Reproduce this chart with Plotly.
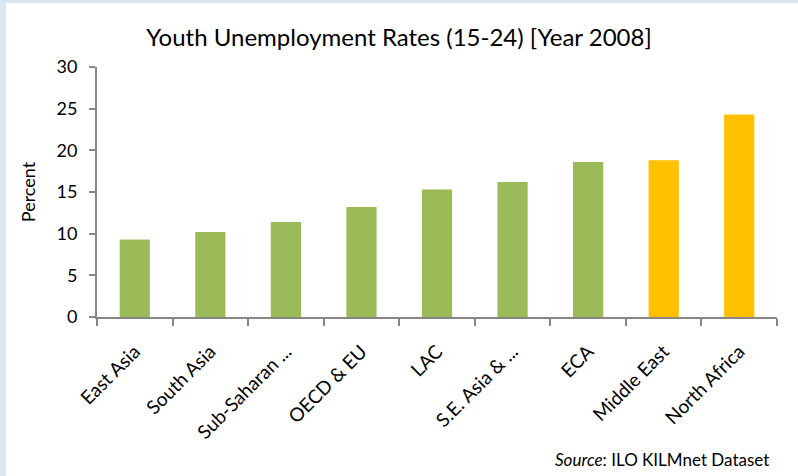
import plotly.graph_objects as go

categories = ["East Asia", "South Asia", "Sub-Saharan ...", "OECD & EU", "LAC",
              "S.E. Asia & ...", "ECA", "Middle East", "North Africa"]
values = [9.3, 10.2, 11.4, 13.2, 15.3, 16.2, 18.6, 18.8, 24.3]
colors = ["#9bbb59"] * 7 + ["#ffc000"] * 2
y_ticks = [0, 5, 10, 15, 20, 25, 30]

FONT = "Lato"
L, R, T, B = 97, 21, 67, 159
W, H = 798, 476
pw, ph = W - L - R, H - T - B

def px_x(p):
    return (p - L) / pw

def px_y(p):
    return (H - B - p) / ph

fig = go.Figure(go.Bar(x=categories, y=values, marker=dict(color=colors, line=dict(width=0)),
                       width=0.4))

fig.update_layout(
    width=W, height=H,
    margin=dict(l=L, r=R, t=T, b=B),
    paper_bgcolor="white", plot_bgcolor="white",
    showlegend=False,
    title=dict(text="Youth Unemployment Rates (15-24) [Year 2008]", x=0.5, xanchor="center",
               y=1 - 38 / H, yanchor="middle", font=dict(family=FONT, size=24, color="black")),
    font=dict(family=FONT, color="black"),
    xaxis=dict(showgrid=False, showline=True, linecolor="#868686", linewidth=2,
               ticks="outside", tickson="boundaries", ticklen=7, tickcolor="#868686", tickwidth=2,
               tickangle=-45, ticklabelstandoff=14,
               tickfont=dict(size=19, family=FONT, color="black")),
    yaxis=dict(range=[0, 30], tickvals=y_ticks, showgrid=False, showline=True,
               linecolor="#868686", linewidth=2, ticks="outside", ticklen=6,
               tickcolor="#868686", tickwidth=2, ticklabelstandoff=8,
               tickfont=dict(size=18, family=FONT, color="black"),
               title=dict(text="Percent", font=dict(size=18, family=FONT, color="black"), standoff=16)),
    shapes=[
        dict(type="rect", xref="paper", yref="paper", x0=px_x(0), x1=px_x(6), y0=px_y(H), y1=px_y(0),
             fillcolor="#dbe5f1", line=dict(width=0), layer="below"),
        dict(type="rect", xref="paper", yref="paper", x0=px_x(0), x1=px_x(W), y0=px_y(3), y1=px_y(0),
             fillcolor="#dbe5f1", line=dict(width=0), layer="below"),
    ],
    annotations=[
        dict(text="<i>Source</i>: ILO KILMnet Dataset", xref="paper", yref="paper",
             x=px_x(771), y=px_y(459), xanchor="right", yanchor="middle", showarrow=False,
             font=dict(size=17, family=FONT, color="black")),
    ],
)

fig.write_html("out.html")
